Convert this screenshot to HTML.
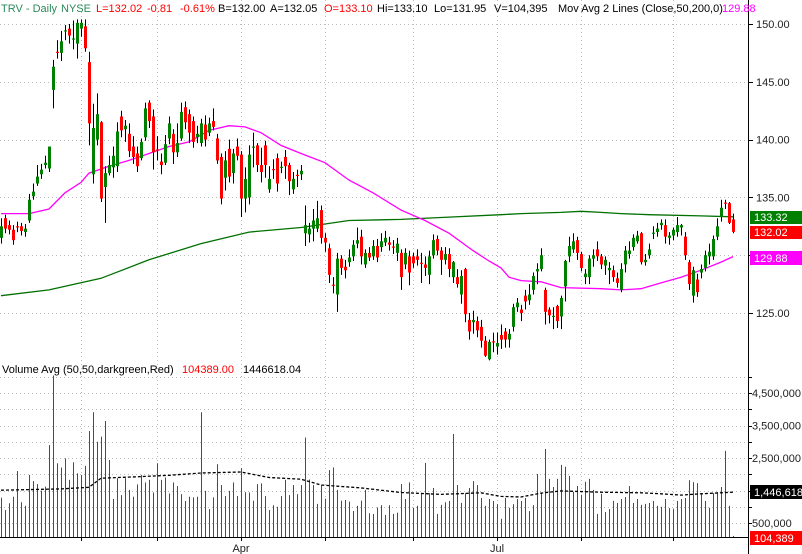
<!DOCTYPE html>
<html><head><meta charset="utf-8"><style>
html,body{margin:0;padding:0;background:#fff;}
svg{display:block;font-family:"Liberation Sans",Arial,sans-serif;}
</style></head><body>
<svg id="chart" width="802" height="554" viewBox="0 0 802 554" xmlns="http://www.w3.org/2000/svg"></svg>
<script>
// ---- data ----
const opens=[131.5,133.2,132.6,132.2,132.5,132.5,132.0,133.0,135.1,136.2,137.0,137.8,137.5,144.3,147.6,147.5,149.35,149.6,148.65,148.3,149.6,149.8,146.7,137.0,140.0,141.5,135.9,137.1,137.6,137.7,142.0,140.9,140.5,139.4,138.8,138.4,140.2,143.2,142.0,139.15,138.1,138.0,140.1,140.5,138.9,140.1,142.8,142.2,141.6,140.2,139.7,141.3,140.6,141.6,140.1,138.5,136.7,139.2,137.1,139.4,138.7,134.9,135.0,139.3,139.5,137.8,139.5,135.7,137.45,138.4,137.55,138.5,137.8,135.7,136.95,137.0,131.9,131.8,132.3,132.3,133.9,131.5,130.6,127.45,126.6,129.7,129.0,129.4,129.9,131.0,131.6,129.2,130.2,129.9,130.8,130.7,131.1,131.1,130.75,130.2,130.2,129.2,129.9,129.9,129.9,129.35,129.2,128.3,130.0,131.4,130.4,129.6,130.1,128.1,128.1,126.6,128.8,124.4,124.2,124.3,123.8,122.6,121.0,122.55,122.1,123.1,123.4,122.7,123.8,125.5,125.3,126.5,126.1,127.0,128.6,128.8,127.0,125.3,124.65,125.6,124.7,127.3,129.9,130.5,131.3,130.1,128.1,128.1,129.7,130.5,129.9,129.1,128.7,128.7,128.0,127.0,129.2,130.1,130.7,131.2,131.9,129.4,130.0,131.85,132.0,132.6,132.6,131.5,131.7,132.0,132.4,131.6,129.4,126.5,127.9,128.5,128.9,129.9,129.9,131.6,133.3,134.55,134.5,133.1];
const closes=[132.5,132.3,132.2,131.3,132.4,132.1,132.3,134.8,135.5,136.8,137.4,138.0,139.4,146.3,147.5,148.5,149.45,149.0,148.75,150.1,150.1,147.9,141.4,141.0,142.2,134.9,137.1,137.8,138.6,140.7,140.8,141.2,139.0,138.5,137.7,139.8,142.7,141.6,138.9,139.05,137.8,139.6,141.4,138.9,139.7,142.4,141.5,140.6,139.8,140.5,141.4,140.0,141.4,141.1,138.2,134.9,138.2,136.8,138.8,138.6,134.9,136.6,138.7,139.4,137.8,137.2,137.8,136.6,137.35,136.2,137.65,137.7,136.4,136.6,136.85,137.3,132.6,132.3,133.0,133.2,131.5,131.1,128.3,127.35,129.7,128.9,128.7,129.8,130.9,131.3,129.9,130.2,129.8,130.8,129.8,131.2,131.5,130.9,130.65,131.0,128.1,130.2,128.5,129.3,129.6,129.25,128.9,129.9,131.3,130.4,129.6,130.1,128.8,129.4,127.5,128.2,124.9,123.4,124.4,123.5,122.6,121.3,122.5,122.45,122.4,122.7,122.7,123.2,125.5,125.9,125.0,126.0,126.6,128.2,128.8,130.0,125.1,124.8,124.75,124.3,126.3,129.5,130.8,131.2,130.2,128.9,128.4,129.7,130.0,129.9,129.2,129.6,128.9,128.1,127.6,128.8,130.4,130.4,131.5,131.7,129.4,129.6,130.5,131.95,132.3,132.8,131.6,131.7,132.2,132.6,132.6,130.0,127.5,128.7,126.8,128.8,130.0,130.3,131.4,132.5,134.1,134.45,132.8,132.02];
const highs=[133.2,133.5,133.0,132.6,132.9,132.8,132.7,135.3,136.2,137.8,137.9,138.6,139.4,146.9,148.6,149.4,149.9,150.0,150.3,150.4,150.4,150.4,147.6,143.1,144.0,141.6,137.7,138.6,139.4,141.5,142.5,141.7,141.4,140.3,139.4,140.1,143.2,143.4,142.6,140.3,138.8,140.4,142.0,140.9,141.4,143.2,143.3,142.6,142.0,141.2,141.8,142.1,141.9,142.7,140.5,138.8,139.0,140.0,139.2,140.1,139.0,137.6,139.5,140.6,139.7,139.3,139.9,137.7,138.3,138.8,138.1,139.1,138.0,137.2,137.4,137.8,134.3,132.8,134.0,134.7,134.3,131.9,131.0,128.1,130.2,130.0,129.6,130.5,131.3,132.4,132.2,130.5,130.7,131.3,131.4,131.9,132.1,131.6,131.3,131.5,130.5,130.6,130.4,130.2,130.5,130.2,129.9,130.4,131.8,131.7,130.7,130.7,130.6,129.5,128.8,128.7,128.9,125.0,125.2,124.7,124.4,123.0,122.7,123.3,123.3,124.0,123.7,123.6,125.8,126.3,125.7,127.0,127.5,128.5,129.3,130.6,127.2,125.5,125.5,125.7,126.5,129.6,131.6,131.9,131.6,130.3,128.8,130.0,130.5,131.2,130.1,129.9,129.4,129.1,128.5,129.3,130.8,131.2,131.8,132.1,132.0,130.1,131.0,132.5,132.8,133.1,133.1,132.0,132.4,133.3,132.7,132.0,129.6,129.0,128.4,129.2,130.4,131.0,131.7,133.2,134.8,134.8,134.6,133.6];
const lows=[131.0,131.9,131.8,130.9,132.0,131.7,131.6,132.8,134.8,136.0,136.6,137.5,137.2,142.7,147.0,146.8,148.6,148.3,147.8,147.0,148.9,147.6,139.5,136.2,139.5,134.6,132.8,136.9,136.7,137.2,140.2,139.8,138.5,137.9,137.2,138.2,139.9,141.0,137.4,138.2,137.0,137.8,139.6,137.9,138.5,139.9,140.9,139.7,139.3,139.7,139.4,139.4,140.3,140.8,137.9,134.4,135.6,136.3,136.2,138.2,133.3,133.7,134.4,137.6,137.2,136.3,136.7,135.4,136.6,135.5,137.1,136.6,135.2,135.3,135.9,136.5,130.8,131.1,131.2,132.0,131.0,130.3,127.6,126.7,125.1,128.3,128.0,129.0,129.5,130.6,129.2,128.9,129.5,129.6,129.4,130.3,130.8,130.4,130.1,129.5,127.0,128.8,127.4,128.9,129.1,127.6,128.2,127.5,129.7,130.0,128.3,129.2,128.1,127.6,127.2,125.8,124.2,122.7,123.2,122.9,122.0,121.2,120.9,121.6,121.4,121.9,122.0,122.0,123.4,125.1,124.3,125.3,125.7,126.6,127.5,128.6,124.0,124.1,123.6,123.7,123.6,126.0,129.4,130.2,129.6,128.6,127.5,127.5,129.0,129.5,128.8,128.3,127.5,127.7,127.2,126.8,128.5,129.7,130.4,131.0,129.2,129.1,129.7,131.4,131.6,132.2,131.0,130.9,131.3,131.6,131.7,129.6,127.0,125.9,126.4,128.0,128.6,129.2,129.6,131.3,132.9,134.0,132.7,131.9];
const volumes=[1.28,0.9,1.11,1.31,2.10,1.14,1.03,1.98,1.79,1.70,1.50,1.62,2.90,5.04,2.34,2.21,2.49,1.83,2.37,2.03,1.98,2.26,3.33,3.91,3.00,3.16,3.64,2.44,1.24,1.88,1.36,1.88,1.52,1.31,1.69,1.98,1.75,1.83,1.44,2.34,1.83,1.90,1.41,1.75,1.64,1.39,1.18,1.31,1.29,1.31,3.91,1.49,0.93,1.29,2.31,1.67,1.33,1.49,1.75,1.33,2.19,1.45,1.44,1.19,1.70,1.72,1.33,0.90,1.05,1.00,1.33,1.83,1.36,1.67,1.39,1.67,3.13,1.84,1.67,1.09,1.67,1.25,2.13,2.21,1.52,1.19,1.21,1.16,0.87,1.03,1.19,1.52,0.80,0.78,0.98,1.05,0.75,1.05,0.78,0.82,1.70,1.24,1.75,0.97,1.03,1.39,2.35,1.42,1.58,0.78,1.06,1.14,1.18,3.24,1.67,1.12,1.42,1.58,1.79,1.67,1.27,1.03,1.24,1.18,1.08,0.63,1.27,0.97,1.08,1.24,1.18,1.27,0.87,1.05,2.01,1.42,2.78,1.86,1.61,1.86,2.29,2.23,1.95,1.46,1.64,1.37,1.77,1.86,1.52,0.78,1.40,0.84,0.93,1.18,1.12,1.24,1.30,1.64,1.12,1.24,1.06,1.09,1.12,1.18,1.03,1.00,1.24,0.96,0.93,1.18,1.24,1.27,1.82,1.76,1.73,1.39,1.18,0.97,1.42,1.45,1.61,2.72,1.03,0.104];
const ma50Idx=[0,7,12,16,20,22,27,32,37,42,47,52,57,61,65,70,75,81,87,93,100,106,112,118,122,125,127,130,135,140,150,155,160,165,170,175,180,183];
const ma50Val=[133.6,133.6,134.0,135.4,136.3,137.1,137.7,138.2,138.8,139.4,139.8,140.8,141.2,141.1,140.6,139.5,138.8,138.0,136.5,135.4,133.9,133.0,131.9,130.4,129.5,128.9,128.1,127.8,127.7,127.2,127.1,127.0,127.1,127.6,128.1,128.7,129.4,129.88];
const ma200Idx=[0,12,25,37,50,62,75,87,100,112,125,130,140,145,150,155,162,175,183];
const ma200Val=[126.5,127.0,128.0,129.6,131.0,132.0,132.4,133.0,133.1,133.3,133.5,133.6,133.7,133.8,133.7,133.6,133.5,133.4,133.32];
const volAvgIdx=[0,15,22,25,35,42,50,60,67,75,80,90,100,110,120,125,130,135,140,150,160,165,170,175,183];
const volAvgVal=[1.51,1.55,1.60,1.88,1.93,1.97,2.04,2.07,1.90,1.85,1.67,1.58,1.44,1.38,1.43,1.32,1.30,1.42,1.49,1.45,1.43,1.40,1.36,1.40,1.45];
const priceTicks=[150,145,140,135,130,125];
const priceTickLabels=["150.00","145.00","140.00","135.00","130.00","125.00"];
const volTicks=[4.5,3.5,2.5,0.5];
const volTickLabels=["4,500,000","3,500,000","2,500,000","500,000"];
const volGrid=[0.5,1,1.5,2,2.5,3,3.5,4,4.5,5];
const monthIdx=[20,39,60,81,103,124,145,168];
const monthLabels=["","","Apr","","","Jul","",""];

// ---- scales ----
const px=i=>1+4*i;
const py=p=>24+(150-p)*11.56;
const vy=v=>539.3-v*32.5;
const GREEN="#008000",RED="#ff0000";
const FS=11;
const svg=document.getElementById('chart');
const NS="http://www.w3.org/2000/svg";
function mk(tag,attrs,parent){const e=document.createElementNS(NS,tag);for(const k in attrs)e.setAttribute(k,attrs[k]);(parent||svg).appendChild(e);return e;}

// grid
const grid=mk('g',{});


monthIdx.forEach(i=>{const l=mk('line',{x1:px(i)+0.5,x2:px(i)+0.5,y1:0,y2:537,stroke:'#bbb','stroke-dasharray':'1,3'},grid);

});
priceTicks.forEach(p=>{const l=mk('line',{x1:0,x2:748,y1:Math.round(py(p))+0.5,y2:Math.round(py(p))+0.5,stroke:'#bbb','stroke-dasharray':'1,3'},grid);

});
volGrid.forEach(v=>{const l=mk('line',{x1:0,x2:748,y1:Math.round(vy(v))+0.5,y2:Math.round(vy(v))+0.5,stroke:'#bbb','stroke-dasharray':'1,3'},grid);

});

// moving averages
function line(idx,val,color,name,yf,dash){const pts=idx.map((i,k)=>px(i)+','+yf(val[k]).toFixed(1)).join(' ');
const e=mk('polyline',{points:pts,fill:'none',stroke:color,'stroke-width':1.3});if(dash)e.setAttribute('stroke-dasharray',dash);

return e;}
line(ma200Idx,ma200Val,'#007000','ma-200-line',py);
line(ma50Idx,ma50Val,'#ff00ff','ma-50-line',py);

// candles
const cg=mk('g',{});


opens.forEach((o,i)=>{const c=closes[i],x=px(i);
const w=mk('line',{x1:x+0.5,x2:x+0.5,y1:py(highs[i]),y2:py(lows[i]),stroke:'#000','stroke-width':1},cg);


const top=py(Math.max(o,c)),bot=py(Math.min(o,c));
const b=mk('rect',{x:x-1,y:top,width:3,height:Math.max(1,bot-top),fill:c>=o?GREEN:RED},cg);

});

// volume
const vg=mk('g',{});


volumes.forEach((v,i)=>{const up=i===0?closes[0]>=opens[0]:closes[i]>=closes[i-1];
const r=mk('rect',{x:px(i),y:vy(v),width:1,height:537-vy(v),fill:up?GREEN:RED},vg);

});
line(volAvgIdx,volAvgVal,'#000','volume-average-line',vy,'3,2');

// axes
const ax=mk('line',{x1:748.5,x2:748.5,y1:0,y2:554,stroke:'#000'});


const bx=mk('line',{x1:0,x2:748,y1:537.5,y2:537.5,stroke:'#000'});


monthIdx.forEach((i,k)=>{const t=mk('line',{x1:px(i)+0.5,x2:px(i)+0.5,y1:537,y2:541,stroke:'#000'});


if(monthLabels[k]){const tx=mk('text',{x:px(i),y:552,'font-size':FS,'text-anchor':'middle',fill:'#222'});tx.textContent=monthLabels[k];

}});
priceTicks.forEach((p,k)=>{const t=mk('line',{x1:748,x2:753,y1:Math.round(py(p))+0.5,y2:Math.round(py(p))+0.5,stroke:'#000'});


if(p===130)return;
const tx=mk('text',{x:756,y:py(p)+4,'font-size':FS,fill:'#222'});tx.textContent=priceTickLabels[k];

});
volGrid.forEach(v=>{const t=mk('line',{x1:748,x2:752,y1:Math.round(vy(v))+0.5,y2:Math.round(vy(v))+0.5,stroke:'#000'});

});
volTicks.forEach((v,k)=>{const tx=mk('text',{x:752,y:vy(v)+4,'font-size':FS,fill:'#222'});tx.textContent=volTickLabels[k];

});

// value boxes
function box(y,h,bg,fg,txt,name){const g=mk('g',{});


mk('rect',{x:750,y:y,width:52,height:h,fill:bg},g);
const t=mk('text',{x:754,y:y+h-3,'font-size':FS,fill:fg},g);t.textContent=txt;}
box(Math.round(py(133.32))-6,13,'#008000','#fff','133.32','ma-200-value-label');
box(Math.round(py(132.02))-6,13,'#ff0000','#fff','132.02','last-price-label');
box(Math.round(py(129.88))-6,14,'#ff00ff','#fff','129.88','ma-50-value-label');
box(Math.round(vy(1.4466))-7,14,'#000','#fff','1,446,618','volume-average-label');
box(531,14,'#ff0000','#fff','104,389','last-volume-label');

// header
function txt(x,y,s,color,name){const t=mk('text',{x:x,y:y,'font-size':FS,fill:color});t.textContent=s;

return t;}
txt(1,12,'TRV - Daily','#2a8a5a','chart-title');
txt(61,12,'NYSE','#2a8a5a','exchange-label');
txt(96,12,'L=132.02','#ff0000','last-value');
txt(147,12,'-0.81','#ff0000','change-value');
txt(180,12,'-0.61%','#ff0000','change-percent');
txt(218,12,'B=132.00','#000','bid-value');
txt(270,12,'A=132.05','#000','ask-value');
txt(324,12,'O=133.10','#ff0000','open-value');
txt(377,12,'Hi=133.10','#000','high-value');
txt(434,12,'Lo=131.95','#000','low-value');
txt(494,12,'V=104,395','#000','volume-value');
txt(558,12,'Mov Avg 2 Lines (Close,50,200,0)','#000','moving-average-legend');
txt(722,12,'129.88','#ff00ff','ma-50-legend-value');
txt(2,373,'Volume Avg (50,50,darkgreen,Red)','#000','volume-legend');
txt(182,373,'104389.00','#ff0000','volume-legend-value');
txt(243,373,'1446618.04','#000','volume-avg-legend-value');
</script>
</body></html>
